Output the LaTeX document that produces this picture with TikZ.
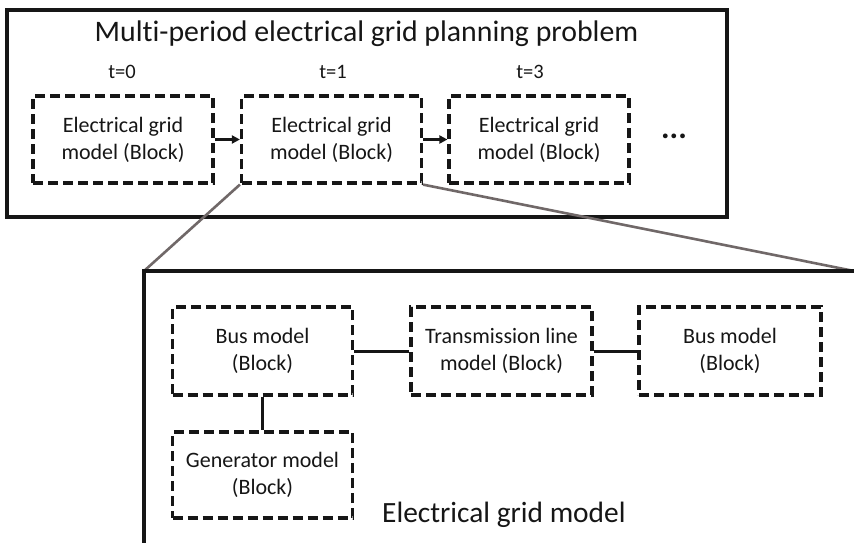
\documentclass[tikz,border=0pt]{standalone}
\usepackage{fontspec}
\setmainfont[Ligatures={NoCommon}]{Carlito}
\usetikzlibrary{arrows.meta}
\definecolor{ink}{RGB}{22,22,22}
\definecolor{zoomgray}{RGB}{112,104,104}
\tikzset{
  blockbox/.style={draw=ink, line width=3.2pt, dash pattern=on 10pt off 5pt, rectangle,
    minimum width=180pt, minimum height=87pt, inner sep=0pt, align=center,
    font=\fontsize{22}{27}\selectfont, text=ink},
  link/.style={draw=ink, line width=3pt},
  flow/.style={draw=ink, line width=3pt, -{Triangle[length=8pt,width=8pt]}},
  zoomline/.style={draw=zoomgray, line width=2.6pt},
  framebox/.style={draw=ink, line width=3.6pt},
  tlabel/.style={font=\fontsize{20.5}{24}\selectfont, text=ink, anchor=base, inner sep=0pt}
}
\begin{document}
\begin{tikzpicture}[x=1pt, y=-1pt]
\useasboundingbox (0,0) rectangle (854,543);
% outer frame
\node[framebox, rectangle, minimum width=720pt, minimum height=207pt, inner sep=0pt, anchor=north west] (outer) at (5,8) {};
\node[anchor=base, inner sep=0pt, font=\fontsize{29.8}{36}\selectfont, text=ink] (title) at (366.5,42) {Multi-period electrical grid planning problem};
% top blocks
\node[blockbox] (b0) at (123,139.5) {Electrical grid\\model (Block)};
\node[blockbox] (b1) at (331.5,139.5) {Electrical grid\\model (Block)};
\node[blockbox] (b3) at (539,139.5) {Electrical grid\\model (Block)};
\node[tlabel] (t0) at (122,78) {t=0};
\node[tlabel] (t1) at (333,78) {t=1};
\node[tlabel] (t3) at (530,78) {t=3};
\node[inner sep=0pt, font=\fontsize{32}{36}\selectfont\bfseries, text=ink] (dots) at (674,136) {...};
\draw[flow] (b0.east) -- (b1.west);
\draw[flow] (b1.east) -- (b3.west);
% zoom lines
\coordinate (lowTL) at (144,271);
\coordinate (lowTR) at (854,271);
\coordinate (lowBL) at (144,543);
\draw[zoomline] (b1.south west) -- (lowTL);
\draw[zoomline] (b1.south east) -- (lowTR);
% lower frame
\draw[framebox] (lowBL) -- (lowTL) -- (lowTR);
% lower blocks
\node[blockbox, minimum height=88pt] (bus1) at (262.5,351) {Bus model\\(Block)};
\node[blockbox, minimum height=88pt, minimum width=181pt] (tl) at (501.5,351) {Transmission line\\model (Block)};
\node[blockbox, minimum height=88pt, minimum width=182pt] (bus2) at (730,351) {Bus model\\(Block)};
\node[blockbox, minimum height=86pt] (gen) at (262.5,475) {Generator model\\(Block)};
\draw[link] (bus1.east) -- (tl.west);
\draw[link] (tl.east) -- (bus2.west);
\draw[link] (bus1.south) -- (gen.north);
\node[anchor=base west, inner sep=0pt, font=\fontsize{29.4}{34}\selectfont, text=ink] (lowtitle) at (382,522) {Electrical grid model};
\end{tikzpicture}
\end{document}
